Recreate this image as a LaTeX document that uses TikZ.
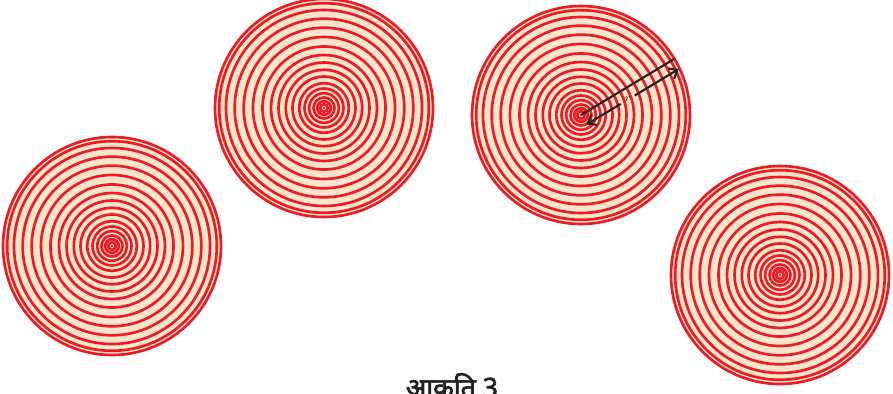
\documentclass[tikz,border=0pt]{standalone}
\usepackage{fontspec}
\newfontfamily\devfont[Script=Devanagari, FakeBold=2.5]{Noto Sans}
\usepackage{xcolor}
\definecolor{ringred}{HTML}{ED1C24}
\definecolor{peach}{HTML}{FFE5CC}
\definecolor{inkdark}{HTML}{231F20}
\usetikzlibrary{arrows.meta}

\begin{document}
\begin{tikzpicture}[x=0.75pt, y=-0.75pt,
  disc/.style={fill=peach},
  ring/.style={draw=ringred, line width=2pt},
  rad/.style={draw=inkdark, line width=1.6pt},
  gauge/.style={draw=inkdark, line width=1.6pt,
    -{Straight Barb[length=5.5pt, width=9pt]}},
  figlabel/.style={font=\devfont\fontsize{20}{22}\selectfont, text=inkdark}]

  \clip (0,0) rectangle (893,393);

  % four targets of concentric rings
  \foreach \nm/\cx/\cy in {ta/112/246, tb/324/108, tc/581/115, td/780/275} {
    \coordinate (\nm) at (\cx,\cy);
    \fill[disc] (\nm) circle[radius=109*0.75pt];
    \foreach \r in {3.8, 6.8, 10.5, 14.8, 19.5, 24.8, 31.5, 38.2, 45.5,
                    53, 61.5, 71, 80.3, 89.3, 98, 104.8, 109}
      \draw[ring] (\nm) circle[radius=\r*0.75pt];
    \fill[ringred] (\nm) circle[radius=1.1pt];
  }

  % radius and its measure
  \coordinate (rim) at (674.8,58.6);
  \draw[rad] (tc) -- (rim);
  \coordinate (ga) at (586.5,124.5);
  \coordinate (gb) at (678.8,69.0);
  \node[font=\footnotesize, text=inkdark, inner sep=3pt] (r) at (627.8,99.7) {$r$};
  \draw[gauge] (r) -- (gb);
  \draw[gauge] (r) -- (ga);

  \node[figlabel, anchor=base] (fig) at (452,397) {आकृति 3};
\end{tikzpicture}
\end{document}
